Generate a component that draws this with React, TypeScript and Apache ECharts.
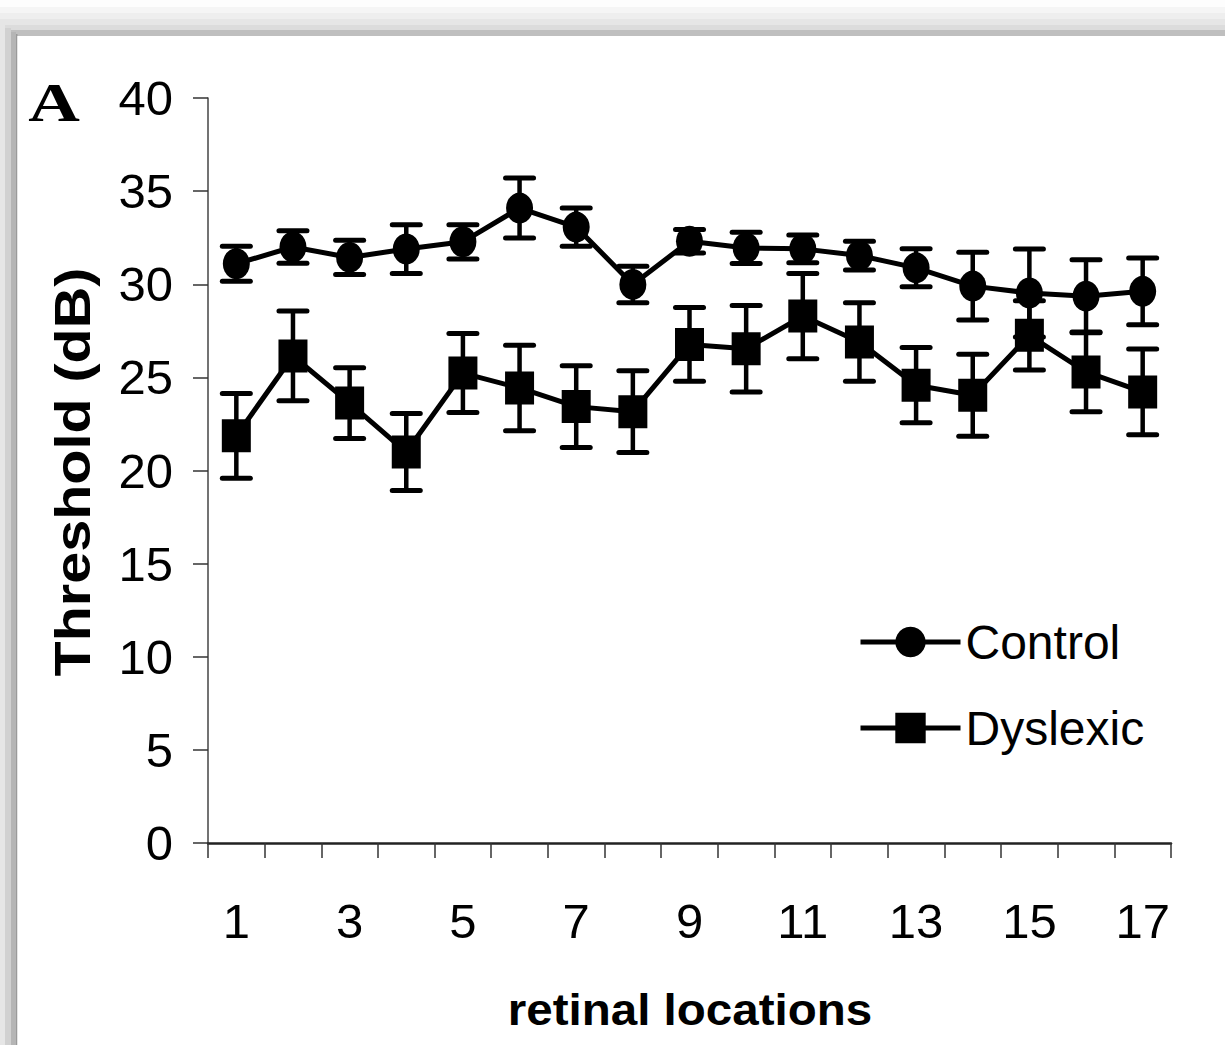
import React, { useEffect, useRef } from "react";
import * as echarts from "echarts";

const locations = ["1", "2", "3", "4", "5", "6", "7", "8", "9", "10", "11", "12", "13", "14", "15", "16", "17"];
const controlMean = [31.1, 32.0, 31.44, 31.89, 32.28, 34.09, 33.07, 29.99, 32.31, 31.95, 31.9, 31.54, 30.88, 29.9, 29.53, 29.36, 29.62];
const controlErr = [0.94, 0.87, 0.92, 1.31, 0.92, 1.61, 1.03, 0.98, 0.63, 0.84, 0.75, 0.77, 1.02, 1.82, 2.36, 1.96, 1.79];
const dyslexicMean = [21.86, 26.15, 23.62, 20.99, 25.23, 24.43, 23.43, 23.16, 26.77, 26.54, 28.29, 26.9, 24.58, 24.04, 27.26, 25.29, 24.22];
const dyslexicErr = [2.28, 2.41, 1.9, 2.07, 2.12, 2.29, 2.19, 2.19, 1.98, 2.32, 2.29, 2.11, 2.02, 2.2, 1.86, 2.14, 2.3];

const yTitle = "Threshold (dB)";
const xTitle = "retinal locations";
const panelLabel = "A";

const NUM_FONT = "'Liberation Sans', Arial, sans-serif";
const BOLD_FONT = "'Liberation Sans', Arial, sans-serif";

function errorBarSeries(name: string, means: number[], errs: number[]) {
  return {
    name,
    type: "custom",
    z: 3,
    data: means.map((m, i) => [i, m, errs[i]]),
    renderItem: (_params: any, api: any) => {
      const idx = api.value(0);
      const m = api.value(1);
      const e = api.value(2);
      const top = api.coord([idx, m + e]);
      const bot = api.coord([idx, m - e]);
      const hw = 14;
      const st = { stroke: "#000", lineWidth: 5, lineCap: "round" };
      return {
        type: "group",
        children: [
          { type: "line", shape: { x1: top[0], y1: top[1], x2: bot[0], y2: bot[1] }, style: { stroke: "#000", lineWidth: 4.5 } },
          { type: "line", shape: { x1: top[0] - hw, y1: top[1], x2: top[0] + hw, y2: top[1] }, style: st },
          { type: "line", shape: { x1: bot[0] - hw, y1: bot[1], x2: bot[0] + hw, y2: bot[1] }, style: st },
        ],
      };
    },
  };
}

export default function App() {
  const ref = useRef<HTMLDivElement>(null);
  useEffect(() => {
    if (!ref.current) return;
    const chart = echarts.init(ref.current, undefined, { renderer: "svg" });
    const option: any = {
      animation: false,
      backgroundColor: "#fdfdfd",
      grid: { left: 208, top: 98, right: 54, bottom: 202, containLabel: false },
      xAxis: {
        type: "category",
        data: locations,
        boundaryGap: true,
        axisLine: { show: true, lineStyle: { color: "#222", width: 2.5 } },
        axisTick: { show: true, interval: 0, length: 15, lineStyle: { color: "#333", width: 1.5 } },
        axisLabel: { interval: 1, margin: 53, fontSize: 49, color: "#000", fontFamily: NUM_FONT },
        splitLine: { show: false },
      },
      yAxis: {
        type: "value",
        min: 0,
        max: 40,
        interval: 5,
        axisLine: { show: true, lineStyle: { color: "#444", width: 1.5 } },
        axisTick: { show: true, length: 15, lineStyle: { color: "#333", width: 1.5 } },
        axisLabel: { margin: 35, fontSize: 49, color: "#000", fontFamily: NUM_FONT },
        splitLine: { show: false },
      },
      legend: {
        data: ["Control", "Dyslexic"],
        orient: "vertical",
        left: 858,
        top: 618,
        padding: 0,
        itemWidth: 100,
        itemHeight: 38,
        itemGap: 38,
        lineStyle: { width: 5, color: "#000" },
        textStyle: { fontSize: 48, color: "#000", fontFamily: NUM_FONT },
      },
      graphic: [
        { type: "rect", shape: { x: 0, y: 7, width: 1225, height: 6 }, style: { fill: "#f5f5f5" }, z: -10 },
        { type: "rect", shape: { x: 0, y: 13, width: 1225, height: 6 }, style: { fill: "#eeeeee" }, z: -10 },
        { type: "rect", shape: { x: 0, y: 19, width: 1225, height: 6 }, style: { fill: "#e6e6e6" }, z: -10 },
        { type: "rect", shape: { x: 0, y: 25, width: 1225, height: 5 }, style: { fill: "#dcdcdc" }, z: -10 },
        { type: "rect", shape: { x: 0, y: 30, width: 1225, height: 6 }, style: { fill: "#bfbfbf" }, z: -10 },
        { type: "rect", shape: { x: 0, y: 24, width: 5, height: 1021 }, style: { fill: "#e6e6e6" }, z: -9 },
        { type: "rect", shape: { x: 5, y: 28, width: 6, height: 1017 }, style: { fill: "#d1d1d1" }, z: -9 },
        { type: "rect", shape: { x: 11, y: 32, width: 5, height: 1013 }, style: { fill: "#b5b5b5" }, z: -9 },
        { type: "rect", shape: { x: 16, y: 34, width: 1.5, height: 1011 }, style: { fill: "#9a9a9a" }, z: -9 },
        { type: "rect", shape: { x: 17.5, y: 36, width: 1207.5, height: 1009 }, style: { fill: "#ffffff" }, z: -8 },
        {
          type: "text",
          x: 54,
          y: 102,
          scaleX: 1.3,
          style: { text: panelLabel, font: "bold 55px 'Liberation Serif', 'Times New Roman', serif", fill: "#000", align: "center", verticalAlign: "middle" },
          z: 5,
        },
        {
          type: "text",
          x: 72,
          y: 472,
          rotation: Math.PI / 2,
          scaleX: 1.15,
          style: { text: yTitle, font: `bold 50px ${BOLD_FONT}`, fill: "#000", align: "center", verticalAlign: "middle" },
          z: 5,
        },
        {
          type: "text",
          x: 690,
          y: 1010,
          scaleX: 1.08,
          style: { text: xTitle, font: `bold 44px ${BOLD_FONT}`, fill: "#000", align: "center", verticalAlign: "middle" },
          z: 5,
        },
      ],
      series: [
        errorBarSeries("ControlErr", controlMean, controlErr),
        errorBarSeries("DyslexicErr", dyslexicMean, dyslexicErr),
        {
          name: "Control",
          type: "line",
          data: controlMean,
          symbol: "circle",
          symbolSize: [27, 31],
          z: 4,
          lineStyle: { color: "#000", width: 5 },
          itemStyle: { color: "#000", borderWidth: 0 },
        },
        {
          name: "Dyslexic",
          type: "line",
          data: dyslexicMean,
          symbol: "rect",
          symbolSize: [29, 33],
          z: 4,
          lineStyle: { color: "#000", width: 5 },
          itemStyle: { color: "#000", borderWidth: 0 },
        },
      ],
    };
    chart.setOption(option);
    return () => chart.dispose();
  }, []);
  return <div ref={ref} style={{ position: "fixed", left: 0, top: 0, width: 1225, height: 1045 }} />;
}
